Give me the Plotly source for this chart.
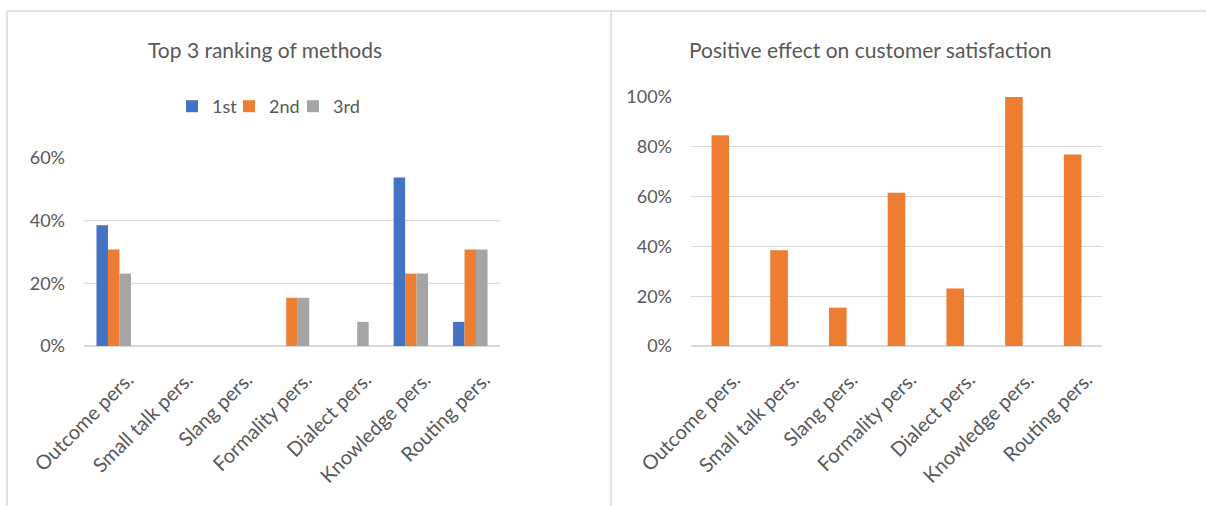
import plotly.graph_objects as go

categories = ["Outcome pers.", "Small talk pers.", "Slang pers.", "Formality pers.",
              "Dialect pers.", "Knowledge pers.", "Routing pers."]

# Share of respondents ranking each method 1st / 2nd / 3rd
rank_1st = [0.385, 0.0, 0.0, 0.0, 0.0, 0.538, 0.077]
rank_2nd = [0.308, 0.0, 0.0, 0.154, 0.0, 0.231, 0.308]
rank_3rd = [0.231, 0.0, 0.0, 0.154, 0.077, 0.231, 0.308]

# Share reporting a positive effect on customer satisfaction
positive_effect = [0.846, 0.385, 0.154, 0.615, 0.231, 1.0, 0.769]

W, H = 1206, 506
FONT = "Lato"
TXT = "#595959"
GRID = "#d9d9d9"


def px(x):
    return x / W


def py(y):
    return 1 - y / H


fig = go.Figure()

# one single-entry legend per series so the entries sit tightly side by side
series = [("1st", rank_1st, "#4472c4", "legend", 172),
          ("2nd", rank_2nd, "#ed7d31", "legend2", 229),
          ("3rd", rank_3rd, "#a5a5a5", "legend3", 293)]
legend_cfg = {}
for name, vals, col, leg, lx in series:
    fig.add_trace(go.Bar(x=categories, y=vals, name=name, marker_color=col,
                         marker_line_width=0, xaxis="x", yaxis="y", hoverinfo="skip",
                         legend=leg))
    legend_cfg[leg] = dict(orientation="h", x=px(lx), y=py(88), xanchor="left", yanchor="top",
                           font=dict(family=FONT, size=18, color=TXT),
                           bgcolor="rgba(0,0,0,0)", itemclick=False, itemdoubleclick=False,
                           itemwidth=30)

fig.add_trace(go.Bar(x=categories, y=positive_effect, name="Positive effect",
                     marker_color="#ed7d31", marker_line_width=0, showlegend=False,
                     xaxis="x2", yaxis="y2", width=0.3, hoverinfo="skip"))

common_x = dict(showgrid=False, showline=False, ticks="", tickangle=-45,
                tickfont=dict(family=FONT, size=20, color=TXT), fixedrange=True,
                automargin=False, ticklabelstandoff=17, ticklabelshift=14)
common_y = dict(showgrid=True, gridcolor=GRID, gridwidth=1, zeroline=True,
                zerolinecolor=GRID, zerolinewidth=1.5, showline=False, ticks="",
                tickformat=".0%", tickfont=dict(family=FONT, size=18, color=TXT),
                fixedrange=True, ticklabelstandoff=18, automargin=False)

fig.update_layout(
    width=W, height=H,
    margin=dict(l=0, r=0, t=0, b=0, autoexpand=False),
    paper_bgcolor="white", plot_bgcolor="white",
    barmode="group", bargap=0.42, bargroupgap=0,
    font=dict(family=FONT, color=TXT),
    xaxis=dict(domain=[px(84), px(500)], anchor="y", **common_x),
    yaxis=dict(domain=[py(346), py(158)], anchor="x", range=[0, 0.6], dtick=0.2, **common_y),
    xaxis2=dict(domain=[px(691), px(1102)], anchor="y2", **common_x),
    yaxis2=dict(domain=[py(346), py(97)], anchor="x2", range=[0, 1.0], dtick=0.2, **common_y),
    showlegend=True,
    annotations=[
        dict(text="Top 3 ranking of methods", x=px(265), y=py(50), xref="paper", yref="paper",
             xanchor="center", yanchor="middle", showarrow=False,
             font=dict(family=FONT, size=21, color=TXT)),
        dict(text="Positive effect on customer satisfaction", x=px(870), y=py(50),
             xref="paper", yref="paper", xanchor="center", yanchor="middle", showarrow=False,
             font=dict(family=FONT, size=21, color=TXT)),
    ],
    shapes=[
        dict(type="line", xref="paper", yref="paper", x0=px(7), x1=1, y0=py(11), y1=py(11),
             line=dict(color=GRID, width=1.5)),
        dict(type="line", xref="paper", yref="paper", x0=px(7), x1=px(7), y0=py(11), y1=0,
             line=dict(color=GRID, width=1.5)),
        dict(type="line", xref="paper", yref="paper", x0=px(611), x1=px(611), y0=py(11), y1=0,
             line=dict(color=GRID, width=1.5)),
    ],
    **legend_cfg,
)

fig.write_html("out.html", config={"displayModeBar": False})
